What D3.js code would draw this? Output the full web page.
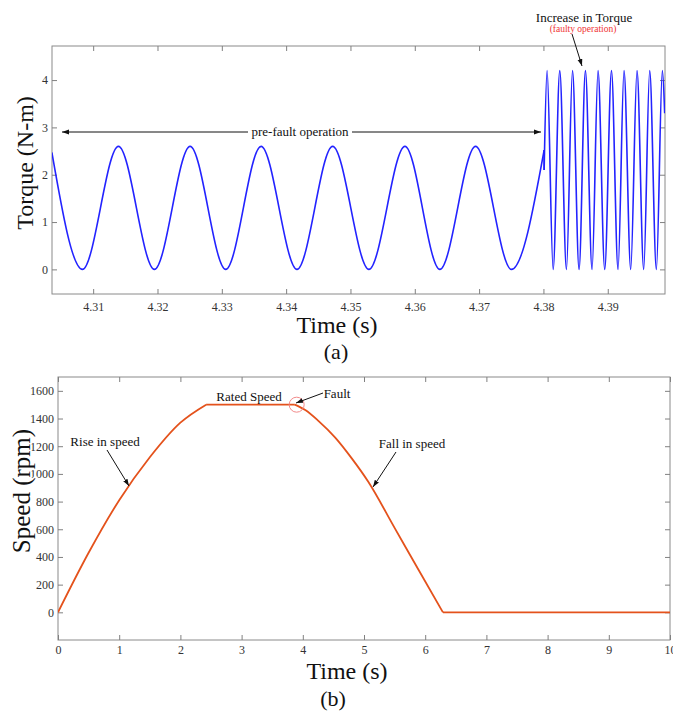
<!DOCTYPE html>
<html lang="en">
<head>
<meta charset="UTF-8">
<title>Torque and speed</title>
<script src="https://d3js.org/d3.v7.min.js"></script>
<style>
    body { margin: 0; background: #fff; }
    svg text { font-family: 'Liberation Serif', 'Times New Roman', serif; }
    .tick line { stroke: #808080; }
    .tick text { fill: #333; font-size: 12px; }
    .domain { display: none; }
</style>
</head>
<body>
<script>
    // (a) torque: extremes, before and after the fault
    var preFaultTime = [4.30358, 4.30834, 4.31393, 4.31952, 4.32507, 4.33061, 4.33610, 4.34169,
        4.34723, 4.35287, 4.35847, 4.36390, 4.36945, 4.37504, 4.38011];
    var preFaultTorque = [2.47, 0, 2.6, 0, 2.6, 0, 2.6, 0, 2.6, 0, 2.6, 0, 2.6, 0, 2.52];
    var faultTime = [4.38011, 4.38057, 4.38151, 4.38254, 4.38358, 4.38452, 4.38554, 4.38653,
        4.38756, 4.38849, 4.38953, 4.39058, 4.39160, 4.39253, 4.39357, 4.39455, 4.39559,
        4.39652, 4.39756, 4.39849, 4.39885];
    var faultTorque = [2.1, 4.2, 0, 4.2, 0, 4.2, 0, 4.2, 0, 4.2, 0, 4.2, 0, 4.2, 0, 4.2, 0,
        4.2, 0, 4.2, 3.3];
    var torqueXTicks = [4.31, 4.32, 4.33, 4.34, 4.35, 4.36, 4.37, 4.38, 4.39];
    var torqueYTicks = [0, 1, 2, 3, 4];

    // (b) speed
    var speedTime = [0, 0.5, 1.0, 1.5, 2.0, 2.42, 3.87, 4.04, 4.25, 4.53, 4.8, 5.07, 5.5, 5.9, 6.29, 10];
    var speedRpm = [0, 430, 810, 1120, 1370, 1500, 1500, 1461, 1385, 1262, 1112, 943, 610, 300, 0, 0];
    var speedPhases = [[0, 5], [5, 6], [6, 14], [14, 15]]; // rise, rated, fall, stopped
    var speedXTicks = [0, 1, 2, 3, 4, 5, 6, 7, 8, 9, 10];
    var speedYTicks = [0, 200, 400, 600, 800, 1000, 1200, 1400, 1600];

    var svg = d3.select("body").append("svg")
        .attr("width", 673)
        .attr("height", 712);

    var defs = svg.append("defs");
    defs.append("marker")
        .attr("id", "arrow")
        .attr("viewBox", "0 0 10 10")
        .attr("refX", 10).attr("refY", 5)
        .attr("markerWidth", 7).attr("markerHeight", 7)
        .attr("orient", "auto-start-reverse")
        .append("path")
        .attr("d", "M0,1.5L10,5L0,8.5Z")
        .attr("fill", "#111");

    function frame(id, x, y, xTicks, yTicks, xFmt, xPad, yPad) {
        var x0 = x.range()[0], x1 = x.range()[1];
        var y0 = y.range()[1], y1 = y.range()[0];
        defs.append("clipPath").attr("id", id)
            .append("rect").attr("x", x0).attr("y", y0)
            .attr("width", x1 - x0).attr("height", y1 - y0);
        svg.append("rect")
            .attr("x", x0).attr("y", y0)
            .attr("width", x1 - x0).attr("height", y1 - y0)
            .attr("fill", "none").attr("stroke", "#8a8a8a");
        svg.append("g").attr("transform", "translate(0," + y1 + ")")
            .call(d3.axisBottom(x).tickValues(xTicks).tickFormat(xFmt).tickSize(-5).tickPadding(xPad));
        svg.append("g").attr("transform", "translate(0," + y0 + ")")
            .call(d3.axisTop(x).tickValues(xTicks).tickFormat("").tickSize(-5));
        svg.append("g").attr("transform", "translate(" + x0 + ",0)")
            .call(d3.axisLeft(y).tickValues(yTicks).tickFormat(d3.format("d")).tickSize(-5).tickPadding(yPad));
        svg.append("g").attr("transform", "translate(" + x1 + ",0)")
            .call(d3.axisRight(y).tickValues(yTicks).tickFormat("").tickSize(-5));
    }

    function label(text, x, y, size, rotate) {
        return svg.append("text")
            .attr("transform", "translate(" + x + "," + y + ")" + (rotate ? " rotate(-90)" : ""))
            .attr("text-anchor", "middle")
            .attr("dy", "0.35em")
            .attr("font-size", size)
            .attr("fill", "#111")
            .text(text);
    }

    function arrow(xa, ya, xb, yb, both) {
        svg.append("line")
            .attr("x1", xa).attr("y1", ya).attr("x2", xb).attr("y2", yb)
            .attr("stroke", "#111").attr("stroke-width", 1)
            .attr("marker-end", "url(#arrow)")
            .attr("marker-start", both ? "url(#arrow)" : null);
    }

    // ---------- (a) torque ----------
    var xT = d3.scaleLinear().domain([4.3036, 4.3989]).range([52, 665]);
    var yT = d3.scaleLinear().domain([-0.52, 4.72]).range([294, 46]);
    frame("clipT", xT, yT, torqueXTicks, torqueYTicks, d3.format(".2f"), 8, 4);

    var torqueLine = d3.line()
        .x(function (d) { return xT(d[0]); })
        .y(function (d) { return yT(d[1]); })
        .curve(d3.curveMonotoneX);
    var pre = d3.zip(preFaultTime, preFaultTorque);
    var post = d3.zip(faultTime, faultTorque);
    var gT = svg.append("g").attr("clip-path", "url(#clipT)")
        .attr("fill", "none").attr("stroke", "#2323ff").attr("stroke-width", 1.6);
    gT.append("path").attr("d", torqueLine(pre));
    gT.append("path").attr("d", torqueLine.curve(d3.curveLinear)([pre[pre.length - 1], post[0]]));
    gT.append("path").attr("d", torqueLine.curve(d3.curveMonotoneX)(post));

    arrow(248, 132, 62, 132);
    arrow(352, 132, 541, 132);
    label("pre-fault operation", 300, 131, 13);
    label("Increase in Torque", 584, 17, 13);
    label("(faulty operation)", 583, 29, 9.5).attr("fill", "#f03434");
    arrow(572, 34, 582, 66);

    label("Torque (N-m)", 25, 163, 24, true);
    label("Time (s)", 337, 325, 24);
    label("(a)", 336, 351, 22);

    // ---------- (b) speed ----------
    var xS = d3.scaleLinear().domain([0, 10]).range([58, 670]);
    var yS = d3.scaleLinear().domain([-200, 1700]).range([640, 377]);
    frame("clipS", xS, yS, speedXTicks, speedYTicks, d3.format("d"), 5, 4);

    var speedLine = d3.line()
        .x(function (d) { return xS(d[0]); })
        .y(function (d) { return yS(d[1]); })
        .curve(d3.curveMonotoneX);
    var speedPts = d3.zip(speedTime, speedRpm);
    var gS = svg.append("g").attr("clip-path", "url(#clipS)")
        .attr("fill", "none").attr("stroke", "#e4521c").attr("stroke-width", 1.8);
    speedPhases.forEach(function (p) {
        gS.append("path").attr("d", speedLine(speedPts.slice(p[0], p[1] + 1)));
    });

    svg.append("circle")
        .attr("cx", xS(3.9)).attr("cy", yS(1500)).attr("r", 7.5)
        .attr("fill", "none").attr("stroke", "#f28a8a").attr("stroke-width", 1);
    label("Rated Speed", 249, 396, 13);
    label("Fault", 337, 393, 13);
    arrow(323, 393, 296, 403);
    label("Rise in speed", 105, 441, 13);
    arrow(107, 450, 129, 486);
    label("Fall in speed", 412, 443, 13);
    arrow(396, 452, 373, 487);

    label("Speed (rpm)", 21, 491, 25, true)
        .attr("stroke", "#fff").attr("stroke-width", 3).attr("paint-order", "stroke");
    label("Time (s)", 347, 671, 24);
    label("(b)", 333, 698, 22);
</script>
</body>
</html>
